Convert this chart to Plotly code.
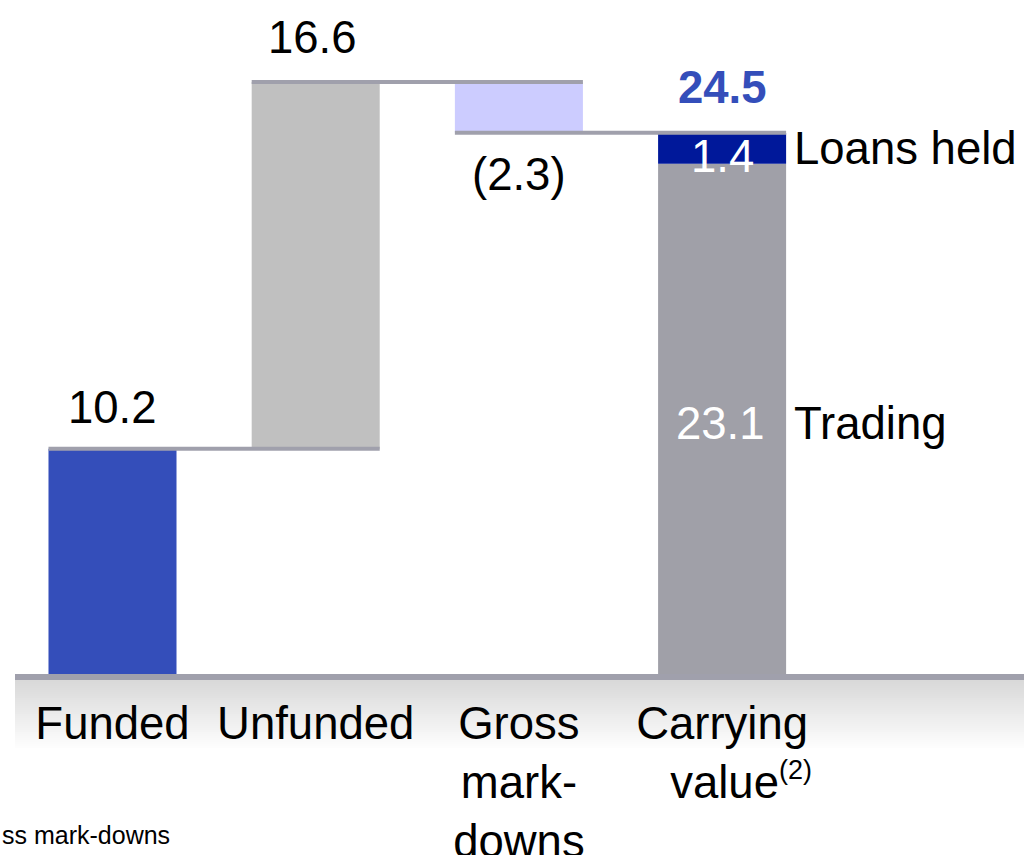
import plotly.graph_objects as go

# ---- data ----
categories = ["Funded", "Unfunded", "Gross<br>mark-<br>downs",
              "Carrying<br>&nbsp;&nbsp;&nbsp;value<sup><span style='font-size:27px'>(2)</span></sup>"]
funded = 10.2
unfunded = 16.6
markdowns = -2.3
trading = 23.1
loans_held = 1.4
segment_names = ["Trading", "Loans held"]
footnote = "ss mark-downs"

# ---- derived levels ----
lvl_funded = funded
lvl_peak = funded + unfunded
lvl_carry = lvl_peak + markdowns

FONT = "Arial, Liberation Sans, sans-serif"
FS = 45.5
C_FUNDED = "#344EBA"
C_UNFUNDED = "#C0C0C0"
C_MARK = "#CCCCFF"
C_LOANS = "#00189A"
C_TRADING = "#A0A0A8"
C_LINE = "#A0A0AC"
BW = 0.63

fig = go.Figure()

def bar(x, base, h, color):
    fig.add_trace(go.Bar(x=[x], y=[h], base=[base], width=BW,
                         marker=dict(color=color, line=dict(width=0)),
                         hoverinfo="skip", showlegend=False))

bar(0, 0, funded, C_FUNDED)
bar(1, lvl_funded, unfunded, C_UNFUNDED)
bar(2, lvl_carry, -markdowns, C_MARK)
bar(3, 0, trading, C_TRADING)
bar(3, trading, loans_held, C_LOANS)

# connectors
for i, lvl in [(0, lvl_funded), (1, lvl_peak), (2, lvl_carry)]:
    fig.add_trace(go.Scatter(x=[i - BW / 2, i + 1 + BW / 2], y=[lvl, lvl], mode="lines",
                             line=dict(color=C_LINE, width=4), hoverinfo="skip",
                             showlegend=False))

ann = []
def label(x, y, text, color="black", yshift=0, xshift=0, bold=False, xanchor="center"):
    ann.append(dict(x=x, y=y, xref="x", yref="y", text=f"<b>{text}</b>" if bold else text,
                    showarrow=False, xanchor=xanchor, yanchor="middle",
                    xshift=xshift, yshift=yshift,
                    font=dict(family=FONT, size=FS, color=color)))

label(0, lvl_funded, f"{funded:.1f}", yshift=41)
label(1, lvl_peak, f"{unfunded:.1f}", yshift=44, xshift=-3)
label(2, lvl_carry, f"({abs(markdowns):.1f})", yshift=-42)
label(3, lvl_carry, f"{lvl_carry:.1f}", color=C_FUNDED, yshift=45, bold=True)
label(3, trading + loans_held / 2, f"{loans_held:.1f}", color="white", yshift=-8)
label(3, trading / 2, f"{trading:.1f}", color="white", yshift=-5, xshift=-2)
label(3, trading + loans_held / 2, segment_names[1], xshift=70, yshift=0, xanchor="left")
label(3, trading / 2, segment_names[0], xshift=70, yshift=-5, xanchor="left")

ann.append(dict(x=0, y=(674 - 835) / 674, xref="paper", yref="paper", text=footnote,
                showarrow=False, xanchor="left", yanchor="middle",
                font=dict(family=FONT, size=25, color="black")))

# baseline + gradient band (decoration)
shapes = []
def py(p):
    return (674 - p) / 674
shapes.append(dict(type="rect", xref="paper", yref="paper", x0=15 / 1024, x1=1,
                   y0=py(680), y1=py(674), fillcolor=C_LINE, line=dict(width=0), layer="above"))
n = 35
for k in range(n):
    t = k / (n - 1)
    g = int(217 + (255 - 217) * t)
    shapes.append(dict(type="rect", xref="paper", yref="paper", x0=15 / 1024, x1=1,
                       y0=py(680 + 2 * (k + 1)), y1=py(680 + 2 * k),
                       fillcolor=f"rgb({g},{g},{g})", line=dict(width=0), layer="below"))

x0 = -112.5 / 203.2
x1 = (1024 - 112.5) / 203.2
fig.update_layout(
    width=1024, height=855,
    margin=dict(l=0, r=0, t=0, b=181, pad=0, autoexpand=False),
    paper_bgcolor="white", plot_bgcolor="rgba(0,0,0,0)",
    barmode="overlay",
    showlegend=False,
    annotations=ann,
    shapes=shapes,
    xaxis=dict(range=[x0, x1], tickmode="array", tickvals=[0, 1, 2, 3], ticktext=categories,
               tickfont=dict(family=FONT, size=FS, color="black"), showgrid=False,
               zeroline=False, showline=False, ticks="", ticklabelstandoff=18,
               automargin=False, fixedrange=True),
    yaxis=dict(range=[0, 674 / 22.09], visible=False, automargin=False, fixedrange=True),
)

fig.write_html("out.html", config={"displayModeBar": False},
               post_script="document.body.style.margin='0';document.body.style.overflow='hidden';")
